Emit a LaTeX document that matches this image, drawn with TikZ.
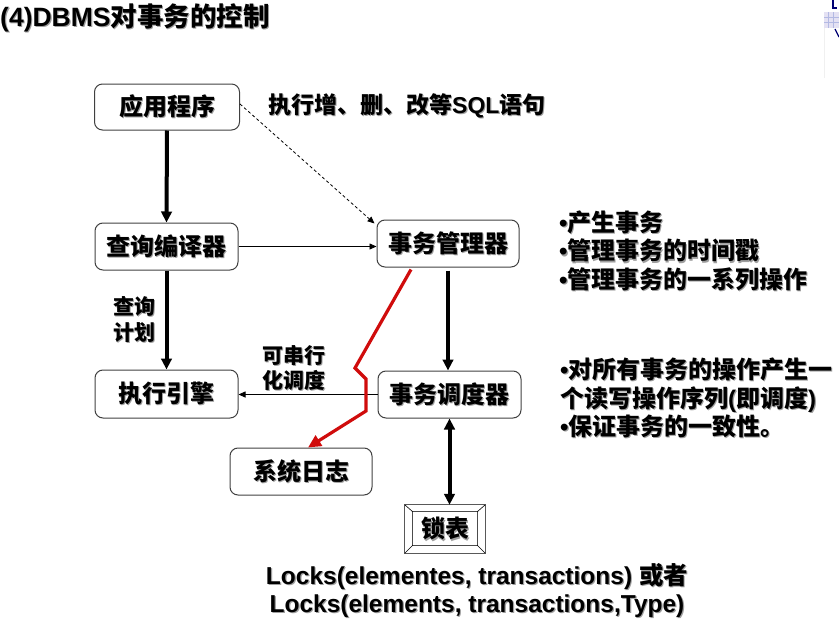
\documentclass[tikz,border=0pt]{standalone}
\usepackage{fontspec}
\setmainfont{Liberation Sans}
\newfontfamily\cjk{Noto Sans CJK SC}
\usetikzlibrary{arrows.meta}
\definecolor{shc}{gray}{0.62}
\definecolor{redl}{RGB}{208,12,12}
\newcommand\shd[1]{\leavevmode\rlap{\kern1.2pt\raisebox{-1.2pt}{\color{shc}#1}}#1}
\newcommand\la[1]{{\rmfamily\bfseries #1}}
\begin{document}
\begin{tikzpicture}[x=1pt,y=-1pt,
 box/.style={draw=black!75, line width=1pt, rounded corners=8pt, minimum width=143pt, minimum height=47pt, inner sep=0pt, font=\cjk\bfseries\fontsize{24}{29}\selectfont},
 lbl/.style={inner sep=0pt, font=\cjk\bfseries\fontsize{21}{25.5}\selectfont, align=center},
 txt/.style={inner sep=0pt, anchor=west, font=\cjk\bfseries\fontsize{24}{28.5}\selectfont, align=left},
 thickarr/.style={line width=4pt, -{Triangle[length=11pt,width=10.5pt]}},
 dblarr/.style={line width=4pt, {Triangle[length=11pt,width=10.5pt]}-{Triangle[length=11pt,width=10.5pt]}},
 thinarr/.style={line width=0.8pt, -{Triangle[length=7pt,width=6pt]}},
 redarr/.style={line width=3.2pt, draw=redl, -{Triangle[length=13pt,width=12pt]}},
]
\useasboundingbox (0,0) rectangle (839,624);
% corner decoration
\fill[cyan!8!blue!10] (824,12) rectangle (839,28);
\draw[cyan!30!blue!30, line width=0.4pt] (824,17) -- (839,17) (824,22) -- (839,22) (828,12) -- (828,28) (833,12) -- (833,28);
\draw[blue!45!black, line width=1.5pt] (833,0) -- (833,8) -- (837,8);
\draw[blue!45!black, line width=1.2pt] (835,29) -- (839,37);
\draw[black!6, line width=0.6pt] (824,28) -- (824,78);
% title
\node[anchor=west, inner sep=0pt, font=\bfseries\fontsize{26.5}{30}\selectfont] (title) at (0,18) {\shd{\la{(4)DBMS}{\cjk 对事务的控制}}};
% boxes
\node[box, minimum width=145pt, minimum height=46pt] (app) at (167,107) {\shd{应用程序}};
\node[box] (comp) at (166.5,246.5) {\shd{查询编译器}};
\node[box, minimum width=142pt] (tm) at (448,243.5) {\shd{事务管理器}};
\node[box, minimum height=48pt] (exe) at (166.5,394) {\shd{执行引擎}};
\node[box] (sch) at (449.5,394.5) {\shd{事务调度器}};
\node[box, minimum width=142pt] (log) at (301,471.5) {\shd{系统日志}};
% lock table
\node[inner sep=0pt, minimum width=80pt, minimum height=48pt] (lock) at (445,529) {};
\draw[black!65, line width=0.9pt] (lock.north west) rectangle (lock.south east);
\coordinate (lin1) at ([shift={(8pt,-7pt)}]lock.north west);
\coordinate (lin2) at ([shift={(-8pt,-7pt)}]lock.north east);
\coordinate (lin3) at ([shift={(-8pt,8pt)}]lock.south east);
\coordinate (lin4) at ([shift={(8pt,8pt)}]lock.south west);
\draw[black!70, line width=0.9pt] (lin1) -- (lin2) -- (lin3) -- (lin4) -- cycle;
\draw[black, line width=0.6pt] (lock.north west) -- (lin1) (lock.north east) -- (lin2) (lock.south east) -- (lin3) (lock.south west) -- (lin4);
\node[inner sep=0pt, font=\cjk\bfseries\fontsize{24}{29}\selectfont] (locktxt) at ([yshift=-0.5pt]lock.center) {\shd{锁表}};
% connectors
\draw[thickarr] (app.south) -- (comp.north);
\draw[thickarr] (comp.south) -- (exe.north);
\draw[thickarr] ([yshift=-3pt]tm.south) -- (tm.south |- sch.north);
\draw[dblarr] (sch.south) -- (sch.south |- lock.north);
\draw[thinarr] (comp.east) -- (comp.east -| tm.west);
\draw[thinarr] (sch.west) -- (sch.west -| exe.east);
\draw[thinarr, dashed, dash pattern=on 3pt off 2.5pt] ([yshift=3pt]app.east) -- ([shift={(-2pt,-4pt)}]tm.north west);
\coordinate (r1) at (355,368);
\coordinate (r2) at (366,379);
\coordinate (r3) at (366,411);
\draw[redarr] ([xshift=-37pt,yshift=-2pt]tm.south) -- (r1) -- (r2) -- (r3) -- ([xshift=7pt]log.north);
% labels
\node[txt, font=\cjk\bfseries\fontsize{23}{28}\selectfont] (sql) at (268,106) {\shd{执行增、删、改等\la{SQL}语句}};
\node[lbl] (plan) at (134,320) {\shd{查询}\\\shd{计划}};
\node[lbl] (ser) at (294,368.5) {\shd{可串行}\\\shd{化调度}};
\node[txt] (tmnote) at (559,251.5) {\shd{\la{•}产生事务}\\\shd{\la{•}管理事务的时间戳}\\\shd{\la{•}管理事务的一系列操作}};
\node[txt] (schnote) at (560,398.5) {\shd{\la{•}对所有事务的操作产生一}\\\shd{个读写操作序列\la{(}即调度\la{)}}\\\shd{\la{•}保证事务的一致性。}};
\node[inner sep=0pt, align=center, font=\bfseries\fontsize{24.5}{28.5}\selectfont] (locks) at (477,591) {\shd{Locks(elementes, transactions) {\cjk 或者}}\\\shd{Locks(elements, transactions,Type)}};
\end{tikzpicture}
\end{document}
